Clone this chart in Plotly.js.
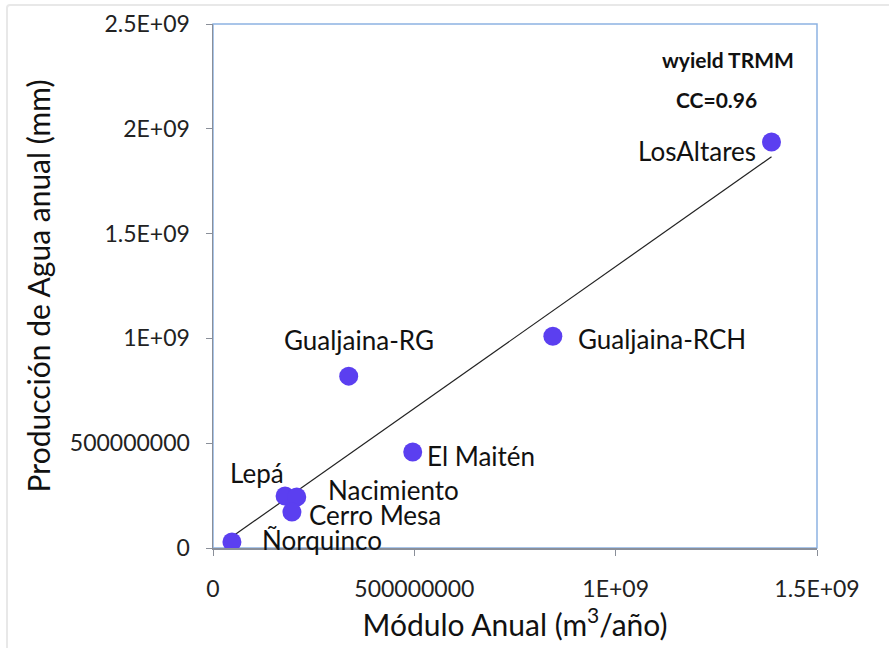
<!DOCTYPE html>
<html>
<head>
<meta charset="utf-8">
<script src="https://cdn.plot.ly/plotly-3.0.1.min.js"></script>
<style>
html,body{margin:0;padding:0;background:#fff;overflow:hidden;}
#frame{position:absolute;left:6px;top:4px;width:1000px;height:800px;border:2px solid #e8e8e8;border-radius:4px;}
#chart{position:absolute;left:0;top:0;width:889px;height:648px;}
</style>
</head>
<body>
<div id="frame"></div>
<div id="chart"></div>
<script>
// Data
const stations = ["Ñorquinco", "Lepá", "Nacimiento", "Cerro Mesa", "El Maitén", "Gualjaina-RG", "Gualjaina-RCH", "LosAltares"];
const moduloAnual = [4.7e7, 1.79e8, 2.08e8, 1.96e8, 4.96e8, 3.37e8, 8.44e8, 1.387e9];
const produccionAgua = [2.9e7, 2.48e8, 2.43e8, 1.72e8, 4.58e8, 8.2e8, 1.01e9, 1.937e9];
const xTickVals = [0, 5e8, 1e9, 1.5e9];
const xTickText = ["0", "500000000", "1E+09", "1.5E+09"];
const yTickVals = [0, 5e8, 1e9, 1.5e9, 2e9, 2.5e9];
const yTickText = ["0", "500000000", "1E+09", "1.5E+09", "2E+09", "2.5E+09"];

// Least squares trend line
const n = moduloAnual.length;
const mx = moduloAnual.reduce((a,b)=>a+b,0)/n;
const my = produccionAgua.reduce((a,b)=>a+b,0)/n;
let sxy=0, sxx=0;
for (let i=0;i<n;i++){ sxy += (moduloAnual[i]-mx)*(produccionAgua[i]-my); sxx += (moduloAnual[i]-mx)**2; }
const slope = sxy/sxx, intercept = my - slope*mx;
const xmin = Math.min(...moduloAnual), xmax = Math.max(...moduloAnual);
const trendX = [xmin, xmax];
const trendY = trendX.map(v => intercept + slope*v);

// label placement (pixel offsets)
const labelStyle = {
  "Ñorquinco":    {xanchor:"left",   xshift:28,  yshift:2},
  "Lepá":         {xanchor:"center", xshift:-28, yshift:23},
  "Nacimiento":   {xanchor:"left",   xshift:29,  yshift:7},
  "Cerro Mesa":   {xanchor:"left",   xshift:15,  yshift:-3},
  "El Maitén":    {xanchor:"left",   xshift:12,  yshift:-4},
  "Gualjaina-RG": {xanchor:"center", xshift:10,  yshift:36},
  "Gualjaina-RCH":{xanchor:"left",   xshift:23,  yshift:-3},
  "LosAltares":   {xanchor:"right",  xshift:-14, yshift:-9}
};

const font = "Lato, 'Open Sans', sans-serif";
const annotations = stations.map((s,i)=>Object.assign({
  x: moduloAnual[i], y: produccionAgua[i], xref:"x", yref:"y",
  text: s, showarrow:false, yanchor:"middle",
  font:{family:font, size:26, color:"#111"}
}, labelStyle[s]));
annotations.push({xref:"paper", yref:"paper", x:0.853, y:0.932, text:"<b>wyield TRMM</b>", showarrow:false,
  font:{family:font, size:21, color:"#111"}, xanchor:"center", yanchor:"middle"});
annotations.push({xref:"paper", yref:"paper", x:0.834, y:0.855, text:"<b>CC=0.96</b>", showarrow:false,
  font:{family:font, size:21, color:"#111"}, xanchor:"center", yanchor:"middle"});

const traces = [
  {x: trendX, y: trendY, mode:"lines", line:{color:"#222", width:1.2}, hoverinfo:"skip"},
  {x: moduloAnual, y: produccionAgua, mode:"markers", text: stations,
   marker:{color:"#5b3ff0", size:19, line:{width:0}}}
];

const layout = {
  width:889, height:648,
  margin:{l:213, r:72, t:24, b:100},
  paper_bgcolor:"rgba(0,0,0,0)", plot_bgcolor:"#fff",
  showlegend:false,
  font:{family:font, color:"#222"},
  xaxis:{range:[0,1.5e9], tickvals:xTickVals, ticktext:xTickText, showgrid:false, zeroline:false,
    showline:true, linecolor:"#8a8f99", linewidth:1.5, ticks:"outside", ticklen:6, tickcolor:"#8a8f99",
    tickfont:{family:font, size:23, color:"#222"}, ticklabelstandoff:14,
    title:{text:"Módulo Anual (m<sup>3</sup>/año)", font:{family:font, size:30, color:"#111"}, standoff:10}},
  yaxis:{range:[0,2.5e9], tickvals:yTickVals, ticktext:yTickText, showgrid:false, zeroline:false,
    showline:true, linecolor:"#8a8f99", linewidth:1.5, ticks:"outside", ticklen:6, tickcolor:"#8a8f99",
    tickfont:{family:font, size:23, color:"#222"}, ticklabelstandoff:11,
    title:{text:"Producción de Agua anual (mm)", font:{family:font, size:30, color:"#111"}, standoff:10}},
  shapes:[{type:"rect", xref:"paper", yref:"paper", x0:0, x1:1, y0:0, y1:1,
    line:{color:"#8db3e2", width:1.5}, layer:"below"}],
  annotations: annotations
};

Plotly.newPlot("chart", traces, layout, {displayModeBar:false, staticPlot:true});
</script>
</body>
</html>
